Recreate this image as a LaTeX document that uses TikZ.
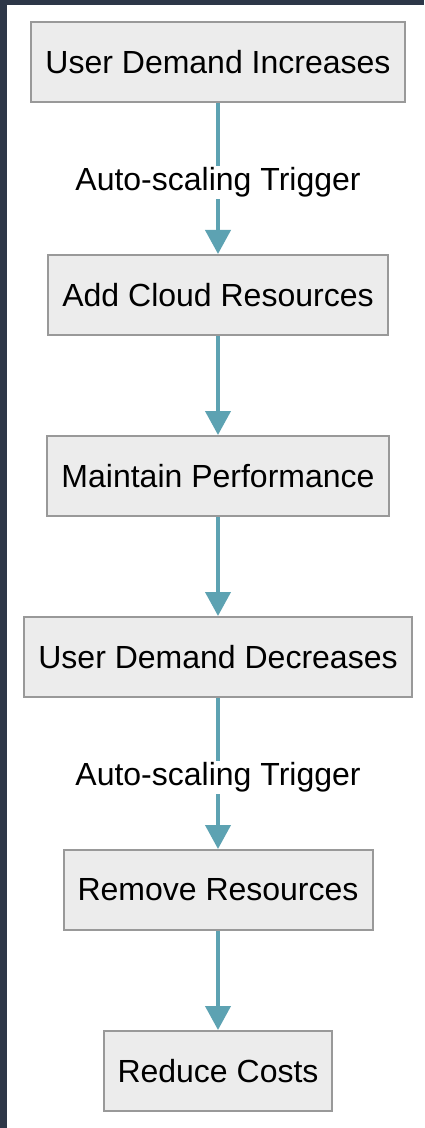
\documentclass[tikz,border=0pt]{standalone}
\usepackage{fontspec}
\setmainfont{Liberation Sans}
\usetikzlibrary{arrows.meta,positioning}
\definecolor{ScaleFrame}{RGB}{45,55,72}
\definecolor{ScaleFill}{RGB}{236,236,236}
\definecolor{ScaleLine}{RGB}{153,153,153}
\definecolor{ScaleArrow}{RGB}{93,162,178}

\begin{document}
\begin{tikzpicture}[>={Triangle[width=12.5pt,length=12pt]}]
        \tikzset{stage/.style={draw=ScaleLine,line width=1pt,fill=ScaleFill,minimum height=40pt,inner xsep=7pt,font=\fontsize{16}{19}\selectfont},trigger/.style={fill=white,text=black,inner sep=1pt,yshift=-2pt,font=\fontsize{16}{19}\selectfont},flow/.style={->,ScaleArrow,line width=2pt}}
        \fill[ScaleFrame] (0,0) rectangle (212pt,-564pt);
        \fill[white] (3.5pt,-2.5pt) rectangle (212pt,-564pt);
        \useasboundingbox (0,0) rectangle (212pt,-564pt);
        \node[stage] (inc) at (109pt,-31pt) {User Demand Increases};
        \node[stage,below=75.5pt of inc] (add) {Add Cloud Resources};
        \node[stage,below=49.5pt of add] (keep) {Maintain Performance};
        \node[stage,below=49.5pt of keep] (dec) {User Demand Decreases};
        \node[stage,below=75.5pt of dec] (rem) {Remove Resources};
        \node[stage,below=49.5pt of rem] (cost) {Reduce Costs};
        \draw[flow] (inc) -- node[trigger] {Auto-scaling Trigger} (add);
        \draw[flow] (add) -- (keep);
        \draw[flow] (keep) -- (dec);
        \draw[flow] (dec) -- node[trigger] {Auto-scaling Trigger} (rem);
        \draw[flow] (rem) -- (cost);
      \end{tikzpicture}
\end{document}
